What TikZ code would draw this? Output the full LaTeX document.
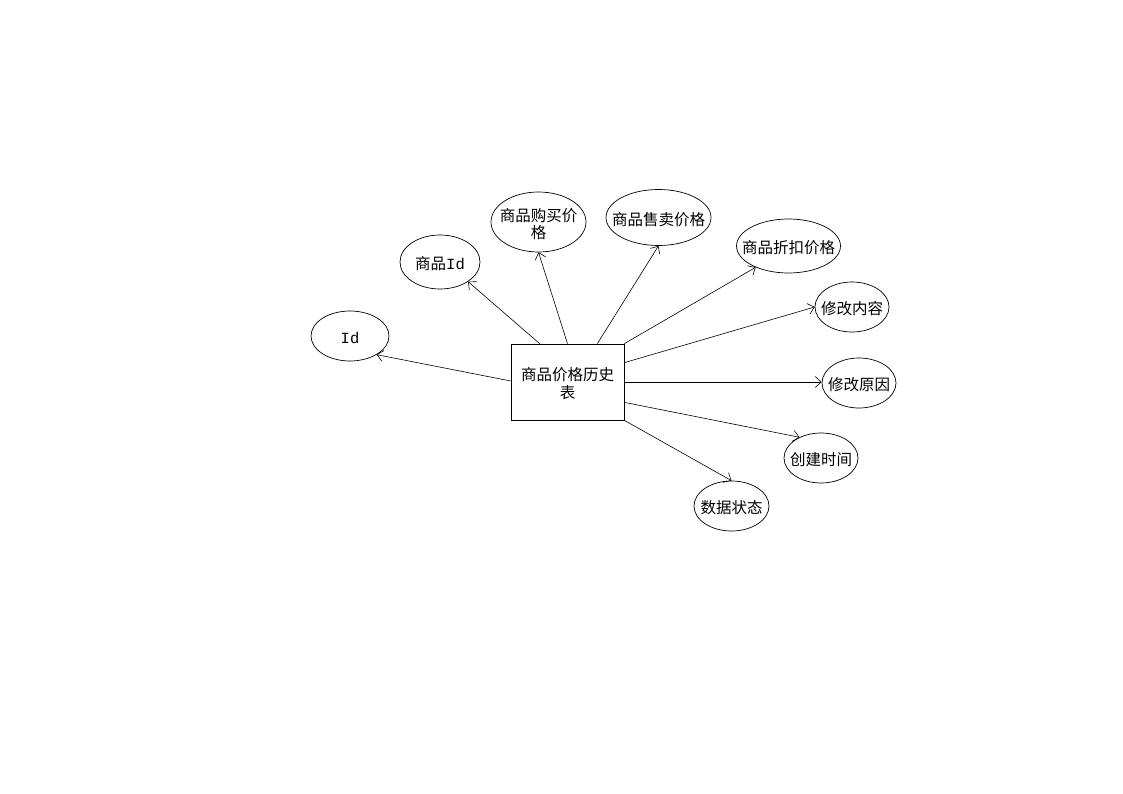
\documentclass[tikz,border=0pt]{standalone}
\usepackage{fontspec}
\newfontfamily\cjk{Noto Sans CJK SC}
\newfontfamily\mono{Liberation Mono}
\usetikzlibrary{shapes.geometric,arrows.meta}
\tikzset{
  attr/.style={ellipse, draw, line width=0.7pt, inner sep=0pt},
  attrlbl/.style={font=\cjk\fontsize{15.5}{17}\selectfont, align=center,
    inner sep=0pt, yshift=-2pt},
  entity/.style={rectangle, draw, line width=0.7pt, inner sep=0pt,
    minimum width=113pt, minimum height=76pt},
  entitylbl/.style={font=\cjk\fontsize{15.5}{18}\selectfont, align=center,
    inner sep=0pt},
  link/.style={line width=0.6pt, -{Straight Barb[length=6pt,width=11pt]}}
}
\begin{document}
\begin{tikzpicture}[x=1pt,y=-1pt]
  \useasboundingbox (0,0) rectangle (1123,794);
  \fill[white] (0,0) rectangle (1123,794);

  % central entity
  \node[entity] (t) at (567.5,382) {};
  \node[entitylbl] (tl) at (567.5,384) {商品价格历史\\表};

  % attributes
  \node[attr, minimum width=78pt, minimum height=50pt,
    label={[attrlbl]center:{\mono Id}}] (id) at (350,336) {};
  \node[attr, minimum width=80pt, minimum height=54pt,
    label={[attrlbl]center:商品{\mono Id}}] (gid) at (440,262) {};
  \node[attr, minimum width=95pt, minimum height=60pt,
    label={[attrlbl]center:商品购买价\\格}] (buy) at (538.5,222) {};
  \node[attr, minimum width=105pt, minimum height=56pt,
    label={[attrlbl]center:商品售卖价格}] (sell) at (658.5,217.5) {};
  \node[attr, minimum width=104pt, minimum height=54pt,
    label={[attrlbl]center:商品折扣价格}] (disc) at (788.5,246) {};
  \node[attr, minimum width=74pt, minimum height=50pt,
    label={[attrlbl]center:修改内容}] (mc) at (852,307) {};
  \node[attr, minimum width=74pt, minimum height=50pt,
    label={[attrlbl]center:修改原因}] (mr) at (859,383) {};
  \node[attr, minimum width=74pt, minimum height=50pt,
    label={[attrlbl]center:创建时间}] (ct) at (821,458) {};
  \node[attr, minimum width=75pt, minimum height=50pt,
    label={[attrlbl]center:数据状态}] (ds) at (731.5,506) {};

  % connectors from the entity to its attributes
  \draw[link] ([yshift=1pt]t.west) -- (id.-35);
  \draw[link] ([xshift=29pt]t.north west) -- (gid.-35);
  \draw[link] (t.north) -- (buy.south);
  \draw[link] ([xshift=-27pt]t.north east) -- (sell.south);
  \draw[link] (t.north east) -- (disc.-147);
  \draw[link] ([yshift=-19pt]t.north east) -- (mc.west);
  \draw[link] (t.east) -- ([yshift=1pt]mr.west);
  \draw[link] ([yshift=18pt]t.south east) -- (ct.136);
  \draw[link] (t.south east) -- (ds.north);
\end{tikzpicture}
\end{document}
